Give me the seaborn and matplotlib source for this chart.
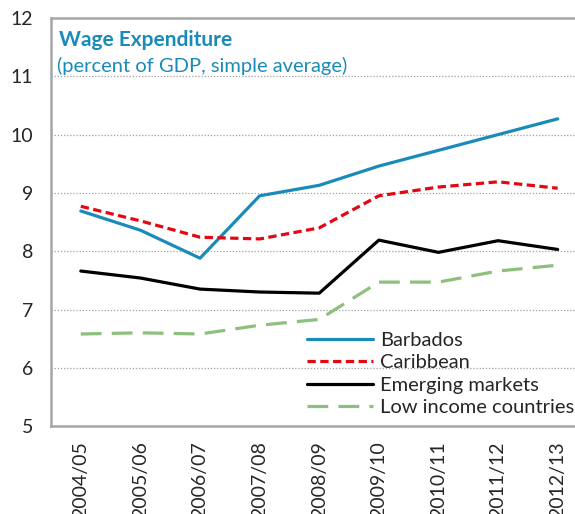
import matplotlib.pyplot as plt
import numpy as np
import pandas as pd
import seaborn as sns

# data
years = ['2004/05', '2005/06', '2006/07', '2007/08', '2008/09',
         '2009/10', '2010/11', '2011/12', '2012/13']
barbados = [8.69, 8.36, 7.88, 8.95, 9.13, 9.46, 9.73, 10.0, 10.27]
caribbean = [8.77, 8.52, 8.24, 8.21, 8.40, 8.95, 9.10, 9.19, 9.08]
emerging = [7.66, 7.54, 7.35, 7.30, 7.28, 8.19, 7.98, 8.18, 8.03]
low_income = [6.58, 6.60, 6.58, 6.73, 6.83, 7.47, 7.47, 7.66, 7.76]

series = ['Barbados', 'Caribbean', 'Emerging markets', 'Low income countries']
df = pd.DataFrame({
    'year': years * 4,
    'value': barbados + caribbean + emerging + low_income,
    'series': np.repeat(series, len(years)),
})

sns.set_style('white')
plt.rcParams['font.family'] = ['Lato', 'DejaVu Sans']

palette = {'Barbados': '#1a8bb9', 'Caribbean': '#e30613',
           'Emerging markets': '#000000', 'Low income countries': '#8dc07c'}
dashes = {'Barbados': '', 'Caribbean': (2.6, 1.4),
          'Emerging markets': '', 'Low income countries': (6.5, 3.2)}

fig = plt.figure(figsize=(5.75, 5.14), dpi=100)
ax = fig.add_axes([0.0887, 0.171, 0.933, 0.794])

sns.lineplot(data=df, x='year', y='value', hue='series', style='series',
             palette=palette, dashes=dashes, linewidth=2.3, ax=ax, sort=False)

ax.set_xlim(-0.5, 8.5)
ax.set_ylim(5, 12)
ax.set_yticks(range(5, 13))
ax.set_xlabel('')
ax.set_ylabel('')

for y in range(6, 12):
    ax.axhline(y, color='#a0a0a0', linestyle=(0, (1, 1.5)), linewidth=0.9, zorder=0)

for side in ['left', 'bottom', 'top']:
    ax.spines[side].set_color('#a6a6a6')
    ax.spines[side].set_linewidth(1.8)
ax.spines['right'].set_visible(False)

ax.set_xticks(range(len(years)))
ax.set_xticklabels(years, rotation=90)
ax.set_xticks(np.arange(0.5, len(years) - 1, 1), minor=True)
ax.tick_params(axis='x', which='major', length=0, labelsize=14, pad=11)
ax.tick_params(axis='x', which='minor', direction='in', length=5, width=1.2, color='#a6a6a6')
ax.tick_params(axis='y', direction='in', length=4, width=1.2, color='#a6a6a6',
               labelsize=14, pad=13)

ax.text(0.015, 0.946, 'Wage Expenditure', transform=ax.transAxes, color='#1a8bb9',
        fontsize=15, fontweight='bold', va='center')
ax.text(0.012, 0.882, '(percent of GDP, simple average)', transform=ax.transAxes,
        color='#1a8bb9', fontsize=14.5, va='center')

leg = ax.legend(loc='upper left', bbox_to_anchor=(0.477, 0.23), frameon=False,
                fontsize=14.5, handlelength=3.3, handletextpad=0.35,
                labelspacing=0.25, borderpad=0, borderaxespad=0)

fig.savefig('out.png', dpi=100)
